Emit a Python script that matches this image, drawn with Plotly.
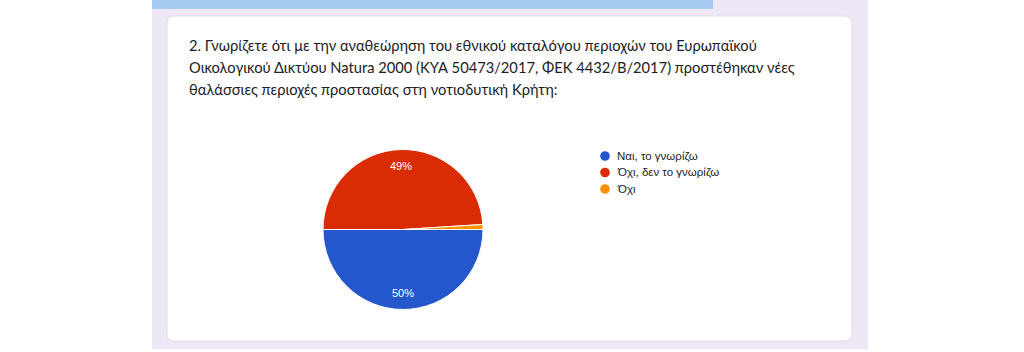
import math
import plotly.graph_objects as go

# Survey answers (share of respondents, %)
categories = ["Ναι, το γνωρίζω", "Όχι, δεν το γνωρίζω", "Όχι"]
values = [50, 49, 1]
colors = ["#2456cc", "#d92b04", "#ff9200"]

question_lines = [
    "2. Γνωρίζετε ότι με την αναθεώρηση του εθνικού καταλόγου περιοχών του Ευρωπαϊκού",
    "Οικολογικού Δικτύου Natura 2000 (ΚΥΑ 50473/2017, ΦΕΚ 4432/Β/2017) προστέθηκαν νέες",
    "θαλάσσιες περιοχές προστασίας στη νοτιοδυτική Κρήτη:",
]

W, H = 1024, 352


def px_x(x):
    return x / W


def px_y(y):
    return 1 - y / H


def rounded_rect(x0, y0, x1, y1, r):
    X0, X1 = px_x(x0), px_x(x1)
    Y0, Y1 = px_y(y0), px_y(y1)
    rx, ry = r / W, r / H
    return (
        f"M {X0 + rx},{Y0} L {X1 - rx},{Y0} Q {X1},{Y0} {X1},{Y0 - ry} "
        f"L {X1},{Y1 + ry} Q {X1},{Y1} {X1 - rx},{Y1} "
        f"L {X0 + rx},{Y1} Q {X0},{Y1} {X0},{Y1 + ry} "
        f"L {X0},{Y0 - ry} Q {X0},{Y0} {X0 + rx},{Y0} Z"
    )


# pie geometry (pixels)
cx, cy, rad = 403, 229.5, 80
start_deg = 90  # first slice starts at 3 o'clock, going clockwise

fig = go.Figure()

fig.add_trace(go.Pie(
    labels=categories,
    values=values,
    sort=False,
    direction="clockwise",
    rotation=start_deg,
    marker=dict(colors=colors, line=dict(color="white", width=1)),
    textinfo="none",
    hoverinfo="label+percent",
    showlegend=False,
    domain=dict(x=[px_x(cx - rad), px_x(cx + rad)],
                y=[px_y(cy + rad), px_y(cy - rad)]),
))

# percentage labels placed at the middle angle of each slice
total = sum(values)
annotations = []
acc = 0
for v in values:
    share = v / total
    mid = start_deg + (acc + share / 2) * 360  # clockwise from 12 o'clock
    acc += share
    if share < 0.05:
        continue
    a = math.radians(mid)
    lx = cx + 0.79 * rad * math.sin(a)
    ly = cy - 0.79 * rad * math.cos(a)
    annotations.append(dict(
        x=px_x(lx), y=px_y(ly), xref="paper", yref="paper",
        text=f"{round(share * 100)}%", showarrow=False,
        font=dict(family="Liberation Sans, Arial", size=11, color="white"),
        xanchor="center", yanchor="middle",
    ))

for i, line in enumerate(question_lines):
    annotations.append(dict(
        x=px_x(187), y=px_y(45 + 22 * i), xref="paper", yref="paper",
        text=line, showarrow=False, xanchor="left", yanchor="middle",
        font=dict(family="Lato, Open Sans, sans-serif", size=14.7, color="#202124"),
    ))

shapes = [
    # page band
    dict(type="rect", xref="paper", yref="paper", layer="below",
         x0=px_x(152), x1=px_x(868), y0=px_y(349), y1=px_y(0),
         fillcolor="#ede7f6", line=dict(width=0)),
    # header strip
    dict(type="rect", xref="paper", yref="paper", layer="below",
         x0=px_x(152), x1=px_x(713), y0=px_y(9), y1=px_y(0),
         fillcolor="#a6cdf1", line=dict(width=0)),
    # card
    dict(type="path", xref="paper", yref="paper", layer="below",
         path=rounded_rect(167, 16, 852, 341, 7),
         fillcolor="white", line=dict(color="#dedbe6", width=1)),
]

# legend: round swatch + label per answer
leg_x, leg_y0, leg_dy, dot_r = 605, 156, 16.5, 4.8
for i, (name, col) in enumerate(zip(categories, colors)):
    yy = leg_y0 + i * leg_dy
    shapes.append(dict(
        type="circle", xref="paper", yref="paper",
        x0=px_x(leg_x - dot_r), x1=px_x(leg_x + dot_r),
        y0=px_y(yy + dot_r), y1=px_y(yy - dot_r),
        fillcolor=col, line=dict(width=0),
    ))
    annotations.append(dict(
        x=px_x(leg_x + 10), y=px_y(yy), xref="paper", yref="paper",
        text=name, showarrow=False, xanchor="left", yanchor="middle",
        font=dict(family="Liberation Sans, Arial", size=11.5, color="#222222"),
    ))

fig.update_layout(
    width=W, height=H,
    margin=dict(l=0, r=0, t=0, b=0),
    paper_bgcolor="white",
    showlegend=False,
    shapes=shapes,
    annotations=annotations,
)

fig.write_html("out.html")
